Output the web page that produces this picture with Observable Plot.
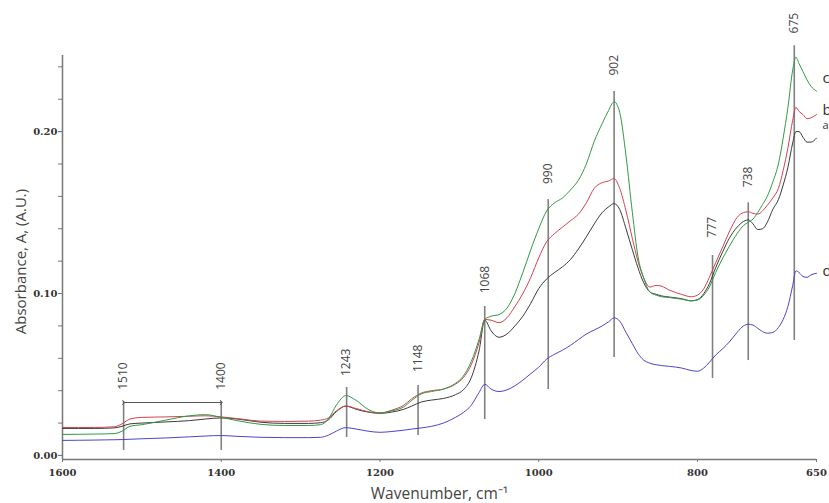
<!DOCTYPE html>
<html><head><meta charset="utf-8">
<script src="https://cdn.jsdelivr.net/npm/d3@7"></script>
<script src="https://cdn.jsdelivr.net/npm/@observablehq/plot@0.6"></script>
<style>body{margin:0;background:#fff}</style>
</head><body><div id="chart"></div>
<script>
const wavenumbers = [1600,1560,1535,1525,1515,1500,1470,1440,1420,1400,1380,1350,1320,1290,1275,1265,1255,1243,1230,1215,1200,1185,1170,1160,1148,1135,1120,1105,1095,1085,1075,1068,1060,1050,1040,1030,1020,1010,1000,990,980,970,960,950,940,930,920,912,905,898,890,882,875,868,860,852,845,835,820,808,800,792,785,777,768,760,750,742,736,730,724,718,712,705,698,692,686,680,676,672,667,662,657,650];

const seriesA = [.0167,.0167,.0170,.0180,.0195,.0200,.0207,.0215,.0225,.0232,.0225,.0205,.0198,.0198,.0202,.0220,.0270,.0305,.0285,.0268,.0260,.0268,.0285,.0305,.0330,.0342,.0352,.0375,.0405,.0480,.0650,.0835,.0770,.0730,.0750,.0800,.0860,.0940,.1030,.1090,.1130,.1165,.1210,.1275,.1350,.1430,.1500,.1535,.1555,.1520,.1400,.1270,.1160,.1070,.1010,.0995,.0985,.0978,.0968,.0955,.0962,.1000,.1060,.1160,.1260,.1340,.1410,.1445,.1455,.1430,.1395,.1400,.1440,.1520,.1580,.1670,.1780,.1930,.2000,.2000,.1965,.1935,.1935,.1960];

const seriesB = [.0173,.0173,.0177,.0195,.0225,.0235,.0238,.0242,.0245,.0238,.0228,.0212,.0210,.0212,.0218,.0232,.0275,.0305,.0290,.0270,.0262,.0280,.0310,.0350,.0385,.0400,.0410,.0440,.0480,.0560,.0700,.0840,.0835,.0820,.0850,.0920,.1000,.1100,.1220,.1320,.1370,.1410,.1450,.1490,.1560,.1650,.1685,.1695,.1710,.1650,.1510,.1340,.1200,.1100,.1040,.1050,.1045,.1020,.0995,.0980,.0990,.1030,.1100,.1190,.1290,.1380,.1470,.1500,.1505,.1495,.1490,.1510,.1545,.1590,.1650,.1760,.1900,.2070,.2150,.2125,.2105,.2080,.2085,.2105];

const seriesC = [.0130,.0132,.0135,.0150,.0180,.0190,.0218,.0245,.0252,.0235,.0215,.0192,.0185,.0185,.0190,.0225,.0310,.0370,.0340,.0285,.0262,.0275,.0300,.0340,.0380,.0395,.0410,.0445,.0490,.0580,.0720,.0840,.0860,.0870,.0910,.1000,.1130,.1270,.1400,.1510,.1560,.1590,.1640,.1700,.1800,.1940,.2050,.2130,.2185,.2120,.1850,.1500,.1230,.1100,.1010,.0990,.0980,.0975,.0965,.0955,.0960,.0990,.1040,.1130,.1220,.1290,.1370,.1420,.1440,.1460,.1500,.1550,.1600,.1690,.1800,.1960,.2150,.2380,.2460,.2420,.2370,.2320,.2280,.2250];

const seriesD = [.0093,.0095,.0097,.0098,.0100,.0103,.0108,.0115,.0120,.0123,.0118,.0112,.0110,.0110,.0112,.0125,.0150,.0172,.0163,.0150,.0143,.0148,.0156,.0163,.0170,.0180,.0200,.0235,.0265,.0310,.0390,.0440,.0410,.0395,.0405,.0430,.0465,.0505,.0545,.0595,.0625,.0650,.0680,.0715,.0750,.0775,.0800,.0825,.0850,.0830,.0760,.0690,.0630,.0590,.0570,.0560,.0555,.0550,.0540,.0525,.0520,.0540,.0575,.0620,.0660,.0700,.0760,.0800,.0810,.0805,.0785,.0765,.0755,.0760,.0790,.0840,.0920,.1050,.1140,.1130,.1105,.1100,.1115,.1125];

const seriesNames = ["a", "b", "c", "d"];
const seriesLabelY = [0.2035, 0.2135, 0.2330, 0.1140];
const seriesLabelSize = [11, 15, 15, 15];

const peakLabels = ["1510","1400","1243","1148","1068","990","902","777","738","675"];
const peakX      = [1523, 1400, 1242, 1152, 1068, 988, 905, 781, 736, 678];
const peakTop    = [0.0333,0.0333,0.0420,0.0432,0.0920,0.1580,0.2247,0.1235,0.1560,0.2530];
const peakBottom = [0.0031,0.0031,0.0111,0.0123,0.0222,0.0407,0.0605,0.0475,0.0586,0.0710];
const peakLabelY = [0.0490,0.0490,0.0575,0.0600,0.1086,0.1740,0.2410,0.1410,0.1720,0.2670];

const rangeArrow = {from: 1523, to: 1400, level: 0.0327};

const xTicks = [1600, 1400, 1200, 1000, 800, 650];
const yTicks = [0, 0.1, 0.2];
const yMinorTicks = [0,0.02,0.04,0.06,0.08,0.1,0.12,0.14,0.16,0.18,0.2,0.22,0.24];

const yMin = -0.0025, yMax = 0.247;

const colors = {a: "#3a3a3a", b: "#d2424e", c: "#2f9a45", d: "#4b45c8"};
const allSeries = [seriesA, seriesB, seriesC, seriesD];
const rows = [];
seriesNames.forEach((n, k) => wavenumbers.forEach((w, i) => rows.push({series: n, wn: w, abs: allSeries[k][i]})));
const peaks = peakLabels.map((l, i) => ({label: l, x: peakX[i], y1: peakBottom[i], y2: peakTop[i], ly: peakLabelY[i]}));
const endLabels = seriesNames.map((n, i) => ({name: n, y: seriesLabelY[i], size: seriesLabelSize[i]}));

const tickFont = {fontFamily: "DejaVu Serif", fontWeight: "bold", fontSize: 10, fill: "#333"};

const chart = Plot.plot({
  width: 829, height: 503,
  marginLeft: 62, marginRight: 13, marginTop: 55, marginBottom: 44,
  x: {domain: [1600, 650]},
  y: {domain: [yMin, yMax]},
  style: {fontFamily: "Open Sans, sans-serif", background: "#fff"},
  marks: [
    Plot.axisY(yMinorTicks, {tickSize: 4, tickFormat: () => "", stroke: "#777", label: null}),
    Plot.axisY(yTicks, {tickSize: 4, tickPadding: 1, tickFormat: d3.format(".2f"), stroke: "#777", label: null, ...tickFont}),
    Plot.axisX(xTicks, {tickSize: 3, tickPadding: 6, tickFormat: d => String(d), stroke: "#777", label: null, ...tickFont}),
    Plot.ruleX([1600], {y1: yMin, y2: yMax, stroke: "#777", strokeWidth: 1.5}),
    Plot.ruleY([yMin], {x1: 1600, x2: 650, stroke: "#777", strokeWidth: 1.5}),
    Plot.ruleX(peaks, {x: "x", y1: "y1", y2: "y2", stroke: "#808080", strokeWidth: 1.6}),
    Plot.text(peaks, {x: "x", y: "ly", text: "label", rotate: -90, fontSize: 12, fill: "#444", textAnchor: "middle"}),
    Plot.link([rangeArrow], {x1: "from", x2: "to", y1: "level", y2: "level", stroke: "#555", strokeWidth: 1, markerStart: "arrow", markerEnd: "arrow"}),
    ...seriesNames.map(n => Plot.line(rows.filter(r => r.series === n), {x: "wn", y: "abs", stroke: colors[n], strokeWidth: 1, curve: "monotone-x"})),
    Plot.text(endLabels, {x: () => 650, y: "y", text: "name", dx: 6, textAnchor: "start", fontSize: d => d.size, fill: "#333"}),
    Plot.text(["Absorbance, A, (A.U.)"], {frameAnchor: "left", dx: -41, dy: 4, rotate: -90, textAnchor: "middle", fontSize: 15, fill: "#444"}),
    Plot.text(["Wavenumber, cm⁻¹"], {frameAnchor: "bottom", dy: 35, textAnchor: "middle", lineAnchor: "middle", fontSize: 15.5, fill: "#444"})
  ]
});
document.getElementById("chart").appendChild(chart);
</script>
</body></html>
